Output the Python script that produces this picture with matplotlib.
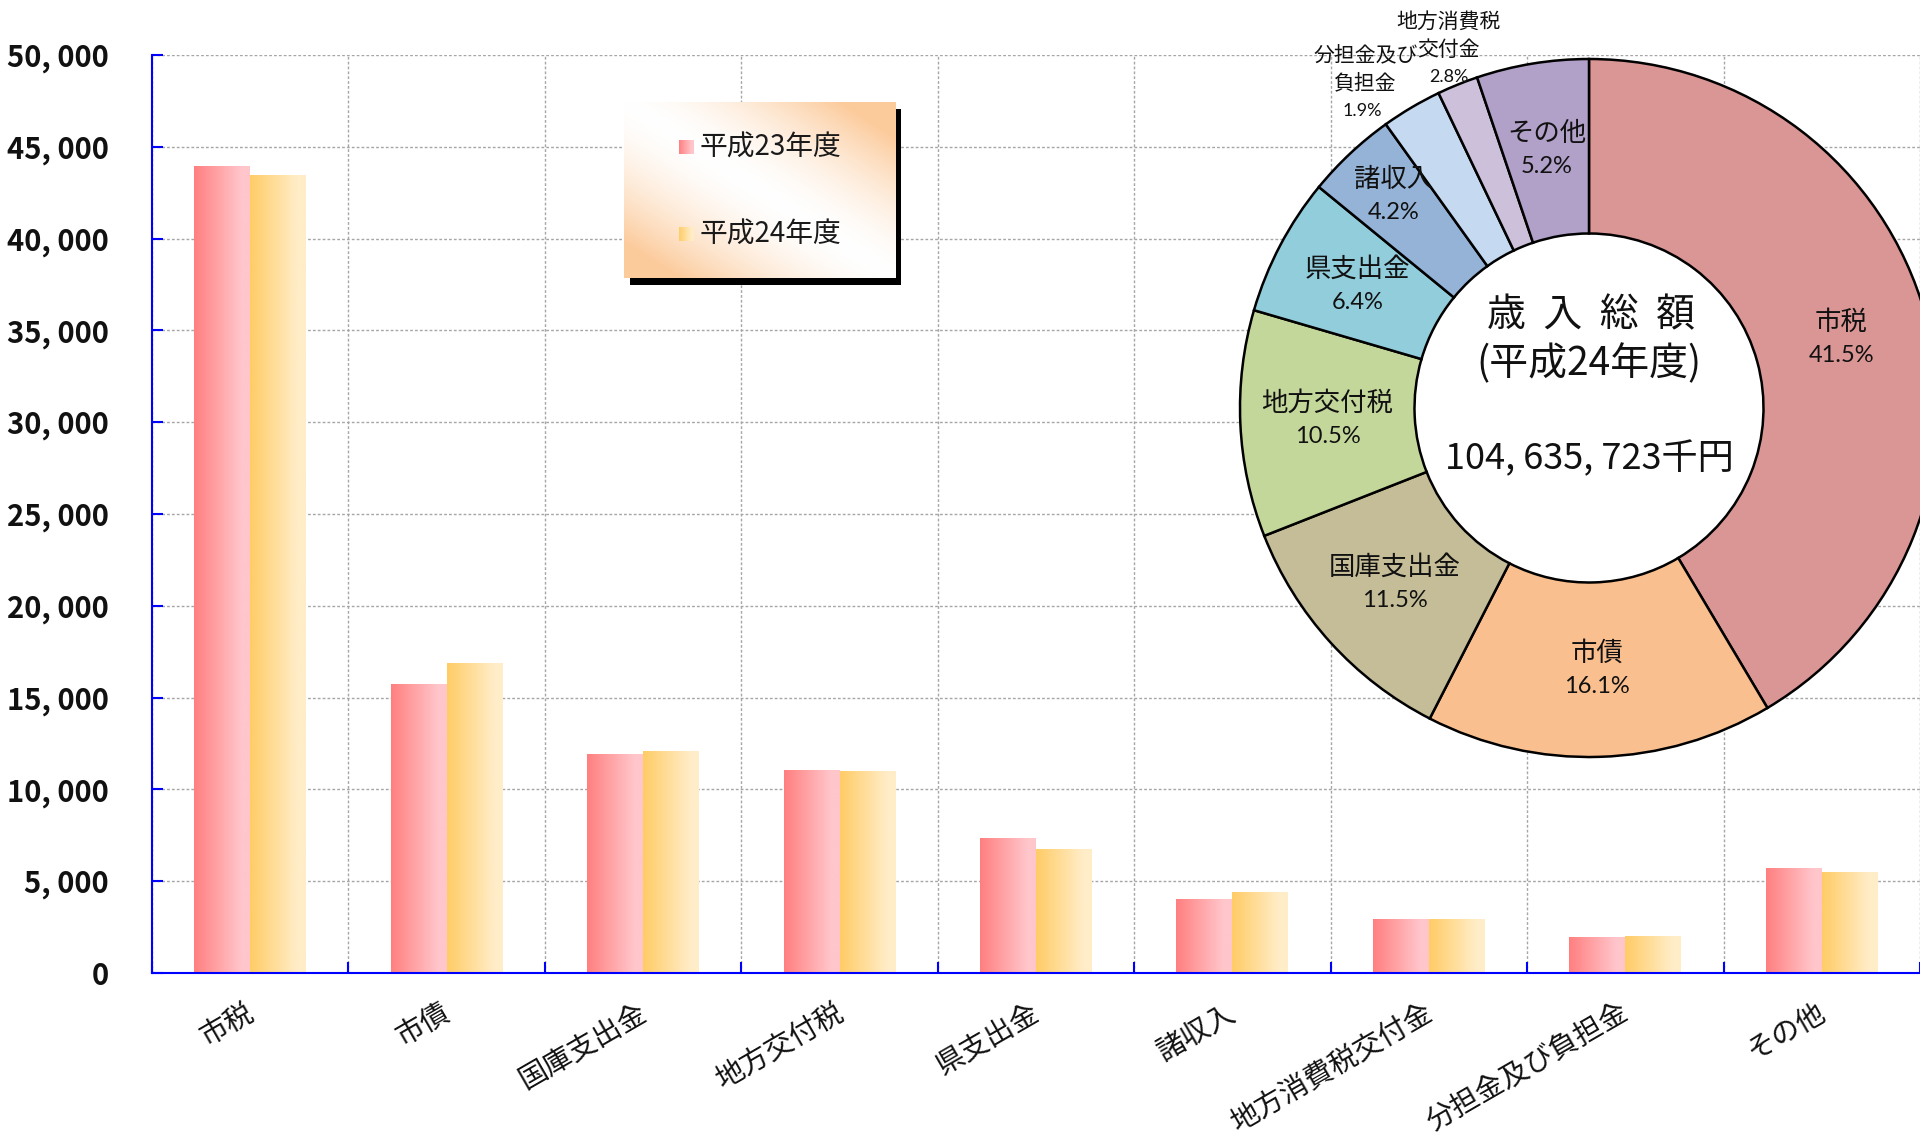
import numpy as np
import matplotlib
matplotlib.use('Agg')
import matplotlib.pyplot as plt
from matplotlib.patches import Rectangle, Circle
from matplotlib.colors import to_rgb

# ---------------- data ----------------
categories = ['市税', '市債', '国庫支出金', '地方交付税', '県支出金', '諸収入',
              '地方消費税交付金', '分担金及び負担金', 'その他']
series_names = ['平成23年度', '平成24年度']
values_h23 = [43930, 15700, 11900, 11020, 7320, 4000, 2900, 1920, 5680]
values_h24 = [43420, 16850, 12040, 10980, 6700, 4380, 2910, 1980, 5450]
yticks = list(range(0, 50001, 5000))

pie_labels = ['市税', '市債', '国庫支出金', '地方交付税', '県支出金', '諸収入',
              '地方消費税\n交付金', '分担金及び\n負担金', 'その他']
pie_pcts = [41.5, 16.1, 11.5, 10.5, 6.4, 4.2, 2.8, 1.9, 5.2]
pie_colors = ['#DA9694', '#FABF8F', '#C4BD97', '#C4D79B', '#92CDDC',
              '#95B3D7', '#C5D9F1', '#CCC0DA', '#B1A0C7']
pie_title = '歳  入  総  額'
pie_subtitle = '(平成24年度)'
pie_total = '104, 635, 723千円'

# ---------------- style ----------------
plt.rcParams['font.family'] = ['Noto Sans CJK JP', 'DejaVu Sans']
W, H = 1920, 1135
fig = plt.figure(figsize=(W / 100, H / 100), dpi=100)
fig.patch.set_facecolor('white')

def fx(px):
    return px / W

def fy(py):
    return 1 - py / H

def hgrad(c0, c1, n=256, flat=0.85):
    t = np.clip(np.linspace(0, 1, n) / flat, 0, 1)
    a, b = np.array(to_rgb(c0)), np.array(to_rgb(c1))
    return (a[None, :] * (1 - t[:, None]) + b[None, :] * t[:, None])[None, :, :]

grad23 = hgrad('#FF7F80', '#FFC6CB')
grad24 = hgrad('#FFCC66', '#FFEDC8')

# ---------------- bar chart ----------------
L, R, T, B = 152, 1920, 55, 973
ax = fig.add_axes([fx(L), fy(B), fx(R - L), (B - T) / H])
ax.set_zorder(0)
x = np.arange(len(categories))
bw = 0.285
for vals, off, grad in [(values_h23, -bw / 2, grad23), (values_h24, bw / 2, grad24)]:
    bars = ax.bar(x + off, vals, width=bw, color='none', edgecolor='none', zorder=2)
    for r in bars:
        ax.imshow(grad, extent=[r.get_x(), r.get_x() + r.get_width(), 0, r.get_height()],
                  aspect='auto', interpolation='bilinear', zorder=2)

ax.set_xlim(-0.5, len(categories) - 0.5)
ax.set_ylim(0, 50000)
ax.set_yticks(yticks)
ax.set_yticklabels([f'{v:,}'.replace(',', ', ') for v in yticks],
                   fontweight='bold', fontsize=21, color='#111111')
ax.set_xticks(np.arange(len(categories) + 1) - 0.5)
ax.set_xticklabels([])
# category labels (invisible minor ticks, nudged slightly right like the reference)
ax.set_xticks(x + 0.045, minor=True)
ax.set_xticklabels(categories, minor=True, rotation=30, ha='right', va='top',
                   fontsize=20.5, color='#111111')
ax.tick_params(axis='y', direction='in', length=8, width=1.5, color='#0000FF', pad=31)
ax.tick_params(axis='x', which='major', direction='in', length=8, width=1.5, color='#0000FF')
ax.tick_params(axis='x', which='minor', length=0, pad=18)
ax.grid(True, which='major', axis='both', color='#A6A6A6', linestyle=(0, (2, 1.5)), linewidth=1)
ax.set_axisbelow(True)
for s in ['top', 'right']:
    ax.spines[s].set_visible(False)
for s in ['left', 'bottom']:
    ax.spines[s].set_color('#0000FF')
    ax.spines[s].set_linewidth(1.5)
    ax.spines[s].set_zorder(3)

# ---------------- legend ----------------
lx0, ly0, lx1, ly1 = 624, 102, 895, 278
shadow = Rectangle((fx(lx0 + 6), fy(ly1 + 7)), fx(lx1 - lx0), (ly1 - ly0) / H,
                   transform=fig.transFigure, facecolor='black', edgecolor='none', zorder=0.5)
fig.add_artist(shadow)
lax = fig.add_axes([fx(lx0), fy(ly1), fx(lx1 - lx0), (ly1 - ly0) / H])
lax.set_zorder(1)
gx, gy = np.meshgrid(np.linspace(0, 1, 200), np.linspace(1, 0, 200))
tt = np.clip(np.abs(gx + gy - 1) * 1.25, 0, 1) ** 1.6
peach = np.array(to_rgb('#FCCB9C'))
img = np.ones((200, 200, 3)) * (1 - tt[..., None]) + peach[None, None, :] * tt[..., None]
lax.imshow(img, extent=[0, 1, 0, 1], aspect='auto', interpolation='bilinear')
lax.set_xlim(0, 1)
lax.set_ylim(0, 1)
lax.axis('off')
for name, grad, yc in [(series_names[0], grad23, 0.741), (series_names[1], grad24, 0.247)]:
    lax.imshow(grad, extent=[0.203, 0.255, yc - 0.037, yc + 0.037], aspect='auto',
               interpolation='bilinear', zorder=3)
    lax.text(0.277, yc, name, fontsize=20, va='center', ha='left', color='#1a1a1a', zorder=4)

# ---------------- donut chart ----------------
cx, cy, rad = 1589, 408, 349
k = 1.05
pax = fig.add_axes([fx(cx - k * rad), fy(cy + k * rad), fx(2 * k * rad), 2 * k * rad / H])
pax.set_zorder(2)
pax.patch.set_visible(False)
pax.add_patch(Circle((0, 0), 0.5, facecolor='white', edgecolor='none', zorder=0))
wedges, _ = pax.pie(pie_pcts, colors=pie_colors, startangle=90, counterclock=False, radius=1,
                    wedgeprops=dict(width=0.5, edgecolor='black', linewidth=1.8))
pax.set_xlim(-k, k)
pax.set_ylim(-k, k)
pax.set_aspect('auto')
pax.axis('off')

overrides = {5: (-0.56, 0.608), 6: (-0.402, 1.027), 7: (-0.64, 0.93)}
for i, (w, name, pct) in enumerate(zip(wedges, pie_labels, pie_pcts)):
    ang = np.deg2rad((w.theta1 + w.theta2) / 2)
    px, py = overrides.get(i, (0.75 * np.cos(ang), 0.75 * np.sin(ang)))
    small = i in (6, 7)
    lines = name.split('\n')
    n = len(lines) + 1
    pitch = 0.08 if small else 0.095
    ys = [py + pitch * ((n - 1) / 2 - j) for j in range(n)]
    fs_name = 15 if small else 19
    fs_pct = 13 if small else 17
    for j, ln in enumerate(lines):
        pax.text(px, ys[j], ln, ha='center', va='center', fontsize=fs_name, color='#111111')
    pax.text(px - (0.01 if i == 7 else 0), ys[-1], f'{pct:.1f}%', ha='center', va='center',
             fontsize=fs_pct, fontfamily=['Lato', 'DejaVu Sans'], color='#111111')

pax.text(0.005, 0.266, pie_title, ha='center', va='center', fontsize=28, color='#111111')
pax.text(0.0, 0.126, pie_subtitle, ha='center', va='center', fontsize=28, color='#111111')
pax.text(0.0, -0.146, pie_total, ha='center', va='center', fontsize=26, color='#111111')

fig.savefig('out.png', dpi=100, facecolor='white')
